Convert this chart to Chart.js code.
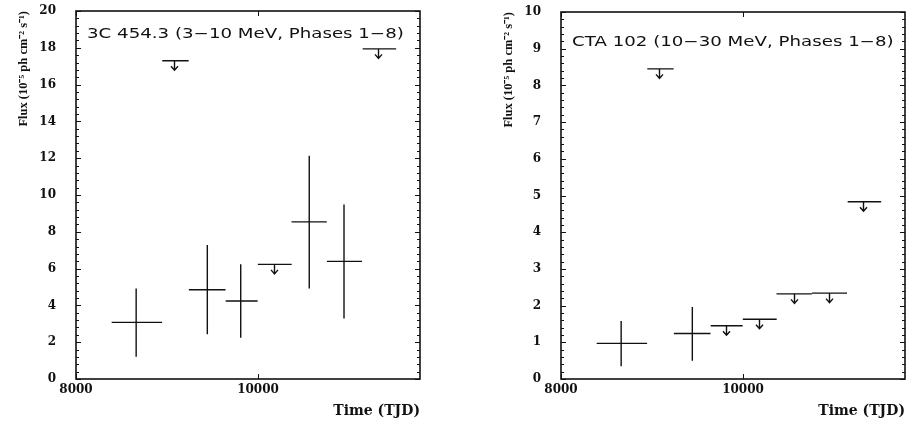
<!DOCTYPE html>
<html><head><meta charset="utf-8">
<script src="https://cdn.jsdelivr.net/npm/chart.js@4.4.1/dist/chart.umd.min.js"></script>
<style>
html,body{margin:0;padding:0;background:#fff;}
#wrap{position:relative;width:908px;height:422px;overflow:hidden;background:#fff;}
canvas{position:absolute;top:0;}
#c1{left:0;width:460px;height:422px;}
#c2{left:485px;width:423px;height:422px;}
</style></head><body>
<div id="wrap">
<canvas id="c1" width="460" height="422"></canvas>
<canvas id="c2" width="423" height="422"></canvas>
</div>
<script>
// ---- data (TJD = truncated Julian date) ----
const xTickLabels = [8000, 10000];
const phaseLow  = [8392, 8948, 9240, 9645, 9998, 10368, 10757, 11150];
const phaseHigh = [8946, 9238, 9643, 9996, 10370, 10756, 11143, 11518];
const phaseMid  = [8661, 9082, 9443, 9810, 10180, 10563, 10945, 11322];

// 3C 454.3, 3-10 MeV
const yTicks3C   = [0, 2, 4, 6, 8, 10, 12, 14, 16, 18, 20];
const flux3C     = [3.08, null, 4.85, 4.24, null, 8.54, 6.39, null];
const fluxLo3C   = [1.21, null, 2.43, 2.24, null, 4.92, 3.29, null];
const fluxHi3C   = [4.92, null, 7.28, 6.23, null, 12.13, 9.48, null];
const upper3C    = [null, 17.30, null, null, 6.23, null, null, 17.94];

// CTA 102, 10-30 MeV
const yTicksCTA  = [0, 1, 2, 3, 4, 5, 6, 7, 8, 9, 10];
const fluxCTA    = [0.97, null, 1.24, null, null, null, null, null];
const fluxLoCTA  = [0.35, null, 0.50, null, null, null, null, null];
const fluxHiCTA  = [1.58, null, 1.96, null, null, null, null, null];
const upperCTA   = [null, 8.45, null, 1.45, 1.63, 2.32, 2.34, 4.83];

const GAP = {x: null, y: null};
function hBars(vals) {
  const out = [];
  vals.forEach((v, i) => { if (v !== null) { out.push({x: phaseLow[i], y: v}, {x: phaseHigh[i], y: v}, GAP); } });
  return out;
}
function vBars(lo, hi) {
  const out = [];
  lo.forEach((v, i) => { if (v !== null) { out.push({x: phaseMid[i], y: v}, {x: phaseMid[i], y: hi[i]}, GAP); } });
  return out;
}

const INK = '#111';

const arrowPlugin = {
  id: 'ulArrows',
  afterDatasetsDraw(chart, args, opts) {
    const {ctx, scales: {x, y}} = chart;
    ctx.save();
    ctx.strokeStyle = INK; ctx.lineWidth = 1.4; ctx.lineCap = 'butt';
    (opts.values || []).forEach((v, i) => {
      if (v === null) return;
      const px = Math.round(x.getPixelForValue(phaseMid[i])) + 0.5;
      const py = y.getPixelForValue(v);
      ctx.beginPath();
      ctx.moveTo(px, py); ctx.lineTo(px, py + 9);
      ctx.moveTo(px - 3.5, py + 5.5); ctx.lineTo(px, py + 9.5); ctx.lineTo(px + 3.5, py + 5.5);
      ctx.stroke();
    });
    ctx.restore();
  }
};

const framePlugin = {
  id: 'frame',
  afterDraw(chart) {
    const {ctx, chartArea: {left, right, top, bottom}, scales: {x, y}} = chart;
    ctx.save();
    ctx.strokeStyle = INK; ctx.lineWidth = 1;
    const seg = (x1, y1, x2, y2) => { ctx.beginPath(); ctx.moveTo(x1, y1); ctx.lineTo(x2, y2); ctx.stroke(); };
    const yt = y.ticks.map(t => t.value);
    yt.forEach((v, i) => {
      const py = Math.round(y.getPixelForValue(v)) + 0.5;
      seg(left, py, left + 5, py); seg(right, py, right - 5, py);
      if (i < yt.length - 1) {
        const step = (yt[i + 1] - v) / 5;
        for (let k = 1; k < 5; k++) {
          const pm = Math.round(y.getPixelForValue(v + k * step)) + 0.5;
          seg(left, pm, left + 3, pm); seg(right, pm, right - 3, pm);
        }
      }
    });
    x.ticks.forEach(t => {
      const px = Math.round(x.getPixelForValue(t.value)) + 0.5;
      seg(px, bottom, px, bottom - 5); seg(px, top, px, top + 5);
    });
    ctx.lineWidth = 1.6;
    ctx.strokeRect(left, top, right - left, bottom - top);
    ctx.restore();
  }
};

const notePlugin = {
  id: 'note',
  afterDraw(chart, args, opts) {
    const {ctx, chartArea: {left, top}} = chart;
    ctx.save();
    ctx.fillStyle = INK;
    ctx.font = '14px "DejaVu Sans"';
    ctx.textBaseline = 'middle';
    ctx.translate(left + opts.dx, top + opts.dy);
    ctx.scale(1.3, 1);
    ctx.fillText(opts.text, 0, 0);
    ctx.restore();
  }
};

const tickFont = {family: '"DejaVu Serif"', size: 12, weight: 'bold'};

function makeChart(id, cfg) {
  return new Chart(document.getElementById(id), {
    type: 'scatter',
    data: {
      datasets: [
        {label: 'flux', data: hBars(cfg.flux), showLine: true, spanGaps: false, pointRadius: 0, borderColor: INK, borderWidth: 1.4},
        {label: 'error', data: vBars(cfg.lo, cfg.hi), showLine: true, spanGaps: false, pointRadius: 0, borderColor: INK, borderWidth: 1.4},
        {label: 'upper limit', data: hBars(cfg.upper), showLine: true, spanGaps: false, pointRadius: 0, borderColor: INK, borderWidth: 1.4}
      ]
    },
    options: {
      responsive: false, animation: false, events: [],
      layout: {padding: {left: 0, right: cfg.padRight, top: cfg.padTop, bottom: 0}},
      plugins: {
        legend: {display: false}, tooltip: {enabled: false},
        ulArrows: {values: cfg.upper},
        note: {text: cfg.note, dx: 11, dy: cfg.noteDy}
      },
      scales: {
        x: {
          type: 'linear', min: 8000, max: 11780,
          grid: {display: false, drawTicks: false}, border: {display: false},
          afterBuildTicks: s => { s.ticks = xTickLabels.map(v => ({value: v})); },
          afterFit: s => { s.height = 43; s.paddingLeft = 0; s.paddingRight = 0; },
          ticks: {font: tickFont, color: INK, padding: 4, maxRotation: 0, autoSkip: false, callback: v => String(v)},
          title: {display: true, text: 'Time (TJD)', align: 'end', color: INK,
                  font: {family: '"DejaVu Serif"', size: 14, weight: 'bold'}, padding: {top: 0, bottom: 2}}
        },
        y: {
          type: 'linear', min: 0, max: cfg.yTicks[cfg.yTicks.length - 1],
          grid: {display: false, drawTicks: false}, border: {display: false},
          afterBuildTicks: s => { s.ticks = cfg.yTicks.map(v => ({value: v})); },
          afterFit: s => { s.width = 76; s.paddingTop = 0; s.paddingBottom = 0; },
          ticks: {font: tickFont, color: INK, padding: 20, autoSkip: false, callback: v => String(v)},
          title: {display: true, text: 'Flux (10⁻⁵ ph cm⁻² s⁻¹)', align: 'end', color: INK,
                  font: {family: '"Liberation Serif"', size: 12.5, weight: 'bold'}, padding: {top: 16, bottom: 0}}
        }
      }
    },
    plugins: [arrowPlugin, framePlugin, notePlugin]
  });
}

makeChart('c1', {flux: flux3C, lo: fluxLo3C, hi: fluxHi3C, upper: upper3C, yTicks: yTicks3C,
  note: '3C 454.3 (3\u221210 MeV, Phases 1\u22128)', noteDy: 23, padRight: 40, padTop: 11});
makeChart('c2', {flux: fluxCTA, lo: fluxLoCTA, hi: fluxHiCTA, upper: upperCTA, yTicks: yTicksCTA,
  note: 'CTA 102 (10\u221230 MeV, Phases 1\u22128)', noteDy: 30, padRight: 3, padTop: 12});
</script>
</body></html>
